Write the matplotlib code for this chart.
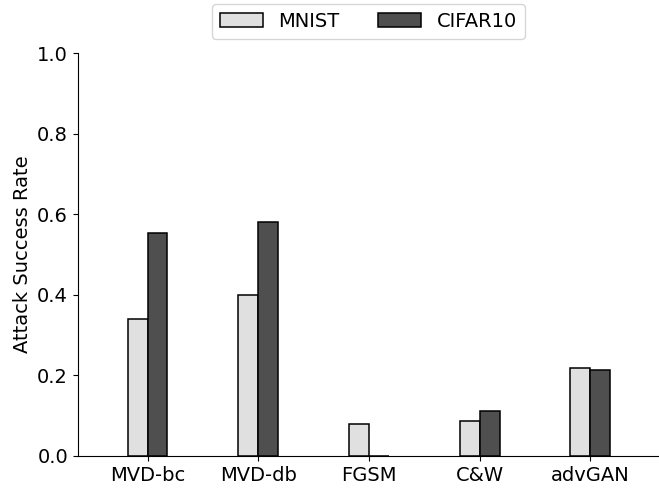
import numpy as np
from matplotlib import pyplot as plt

methods = ['MVD-bc', 'MVD-db', 'FGSM', 'C&W', 'advGAN']
mnist = [0.34, 0.40, 0.079, 0.087, 0.218]
cifar10 = [0.553, 0.58, 0.0, 0.111, 0.213]

fig = plt.figure(figsize=(6.59, 4.88), dpi=100)
ax = fig.add_axes([0.118, 0.066, 0.882, 0.825])

x = np.arange(len(methods))
width = 0.18
ax.bar(x - width / 2, mnist, width, color='#e0e0e0', edgecolor='black', linewidth=1.1, label='MNIST')
ax.bar(x + width / 2, cifar10, width, color='#4f4f4f', edgecolor='black', linewidth=1.1, label='CIFAR10')

ax.set_xticks(x)
ax.set_xticklabels(methods, fontsize=14)
ax.set_ylim(0, 1.0)
ax.set_yticks(np.arange(0, 1.01, 0.2))
ax.tick_params(axis='y', labelsize=14)
ax.set_xlim(-0.63, 4.62)
ax.set_ylabel('Attack Success Rate', fontsize=14)
ax.spines['top'].set_visible(False)
ax.spines['right'].set_visible(False)

# legend sits above the axes
ax.legend(loc='lower center', bbox_to_anchor=(0.5, 1.012), ncol=2, fontsize=14, handlelength=2.2, columnspacing=2.0)

fig.savefig('out.png', dpi=100)
